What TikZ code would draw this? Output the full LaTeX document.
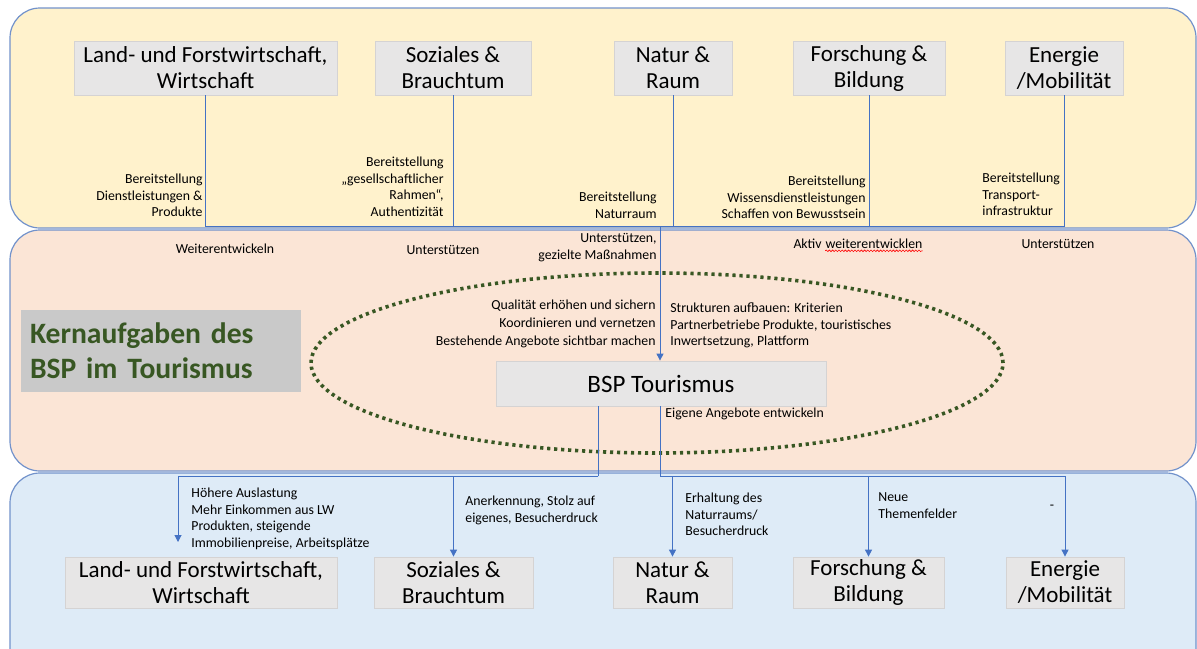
\documentclass[tikz,border=0pt]{standalone}
\usepackage{fontspec}
\setmainfont{Carlito}
\usepackage[dvipsnames]{xcolor}
\usetikzlibrary{arrows.meta,positioning,decorations.pathmorphing}

\definecolor{panelline}{HTML}{7292CB}
\definecolor{topfill}{HTML}{FFF2CC}
\definecolor{midfill}{HTML}{FBE5D6}
\definecolor{botfill}{HTML}{DEEBF7}
\definecolor{boxfill}{HTML}{E7E6E6}
\definecolor{boxline}{HTML}{D5D3D3}
\definecolor{titlefill}{HTML}{C9C9C9}
\definecolor{darkgreen}{HTML}{385723}
\definecolor{connblue}{HTML}{4472C4}

\begin{document}
\begin{tikzpicture}[x=0.5pt,y=-0.5pt,>={Triangle[length=3.5pt,width=3.5pt]},
        panel/.style={draw=panelline,line width=0.6pt,rounded corners=15pt},
        main box/.style={draw=boxline,fill=boxfill,inner sep=0pt,minimum height=27pt,align=center,font=\fontsize{11.5}{13}\selectfont},
        note left/.style={inner sep=0pt,align=left,font=\fontsize{6.9}{8.3}\selectfont},
        note right/.style={inner sep=0pt,align=right,font=\fontsize{6.9}{8.3}\selectfont},
        conn/.style={draw=connblue,line width=0.5pt},
        ring/.style={draw=darkgreen,line width=1.8pt,dash pattern=on 1.6pt off 1.9pt}]
            \useasboundingbox (0,0) rectangle (1197,648);
            \clip (0,0) rectangle (1197,648);

            \path[panel,fill=topfill] (10,8) rectangle (1196,228);
            \path[panel,fill=midfill] (10,230) rectangle (1196,471);
            \path[panel,fill=botfill] (10,473) rectangle (1196,690);

            \draw[ring] (657,363) ellipse [x radius=173pt, y radius=45pt];

            \node[main box] (0) [at = {(205.5,68)}, minimum width=131.5pt]{Land- und Forstwirtschaft,\\Wirtschaft};
            \node[main box] (1) [at = {(453,68)}, minimum width=78pt]{Soziales \&\\Brauchtum};
            \node[main box] (2) [at = {(673,68)}, minimum width=59pt]{Natur \&\\Raum};
            \node[main box] (3) [at = {(869,68)}, minimum width=76pt]{Forschung \&\\Bildung};
            \node[main box] (4) [at = {(1064,68)}, minimum width=59pt]{Energie\\/Mobilität};

            \node[main box] (5) [at = {(661,383.5)}, minimum width=165pt, minimum height=22.5pt, font=\fontsize{12.5}{14}\selectfont]{BSP Tourismus};

            \node[main box] (6) [at = {(201,582.5)}, minimum width=136pt, minimum height=25.5pt]{Land- und Forstwirtschaft,\\Wirtschaft};
            \node[main box] (7) [at = {(453.5,582.5)}, minimum width=79.5pt, minimum height=25.5pt]{Soziales \&\\Brauchtum};
            \node[main box] (8) [at = {(672.5,582.5)}, minimum width=59.5pt, minimum height=25.5pt]{Natur \&\\Raum};
            \node[main box] (9) [at = {(868.5,582.5)}, minimum width=75.5pt, minimum height=25.5pt]{Forschung \&\\Bildung};
            \node[main box] (10) [at = {(1065,582.5)}, minimum width=59pt, minimum height=25.5pt]{Energie\\/Mobilität};

            \node[fill=titlefill, text=darkgreen, align=left, text width=131pt, inner xsep=4.5pt, minimum height=41pt, font=\bfseries\fontsize{14.8}{17.5}\selectfont] (11) [at = {(161,351)}]{Kernaufgaben des\\BSP im Tourismus};

            \coordinate (jt) at (660,226);
            \coordinate (jl) at (598,476);
            \coordinate (jr) at (660,476);
            \coordinate (lw) at (178,542);

            \draw[conn] (0.south) |- (jt);
            \draw[conn] (1.south) |- (jt);
            \draw[conn] (2.south) |- (jt);
            \draw[conn] (3.south) |- (jt);
            \draw[conn] (4.south) |- (jt);
            \draw[conn,->] (jt) -- (5.north -| jt);

            \draw[conn] (5.south -| jl) -- (jl);
            \draw[conn] (5.south -| jr) -- (jr);
            \draw[conn,->] (jl) -| (lw);
            \draw[conn,->] (jl) -| (7.north);
            \draw[conn,->] (jr) -| (8.north);
            \draw[conn,->] (jr) -| (9.north);
            \draw[conn,->] (jr) -| (10.north);

            \node[note right, anchor=north east] (12) [at = {(203,173.5)}]{Bereitstellung\\Dienstleistungen \&\\Produkte};
            \node[note right, anchor=north east] (13) [at = {(444,156.5)}]{Bereitstellung\\„gesellschaftlicher\\Rahmen“,\\Authentizität};
            \node[note right, anchor=north east] (14) [at = {(657,191.5)}]{Bereitstellung\\Naturraum};
            \node[note right, anchor=north east] (15) [at = {(866,175.5)}]{Bereitstellung\\Wissensdienstleistungen\\Schaffen von Bewusstsein};
            \node[note left, anchor=north west] (16) [at = {(982,172.5)}]{Bereitstellung\\Transport-\\infrastruktur};

            \node[note left] (17) [at = {(225,249)}]{Weiterentwickeln};
            \node[note left] (18) [at = {(443,250)}]{Unterstützen};
            \node[note right, anchor=north east, font=\fontsize{6.9}{8.6}\selectfont] (19) [at = {(657,233)}]{Unterstützen,\\gezielte Maßnahmen};
            \node[note left, anchor=base east] (20) [at = {(822,248)}]{Aktiv};
            \node[note left, base right=1.6pt of 20] (21) {weiterentwicklen};
            \node[note left] (22) [at = {(1058,244)}]{Unterstützen};
            \draw[red, line width=0.3pt, decorate, decoration={snake, amplitude=0.4pt, segment length=1.6pt}] ([yshift=-1.4pt]21.base west) -- ([yshift=-1.4pt]21.base east);

            \node[note right, anchor=north east, font=\fontsize{6.9}{9}\selectfont] (23) [at = {(656,300)}]{Qualität erhöhen und sichern\\Koordinieren und vernetzen\\Bestehende Angebote sichtbar machen};
            \node[note left, anchor=north west] (24) [at = {(670,302.5)}]{Strukturen aufbauen: Kriterien\\Partnerbetriebe Produkte, touristisches\\Inwertsetzung, Plattform};
            \node[note left, anchor=west] (25) [at = {(665,414)}]{Eigene Angebote entwickeln};

            \node[note left, anchor=north west] (26) [at = {(191,487.5)}]{Höhere Auslastung\\Mehr Einkommen aus LW\\Produkten, steigende\\Immobilienpreise, Arbeitsplätze};
            \node[note left, anchor=north west] (27) [at = {(465,495.5)}]{Anerkennung, Stolz auf\\eigenes, Besucherdruck};
            \node[note left, anchor=north west] (28) [at = {(685,492.5)}]{Erhaltung des\\Naturraums/\\Besucherdruck};
            \node[note left, anchor=north west] (29) [at = {(878,492.5)}]{Neue\\Themenfelder};
            \node[note left] (30) [at = {(1052,507)}]{-};
        \end{tikzpicture}
\end{document}
